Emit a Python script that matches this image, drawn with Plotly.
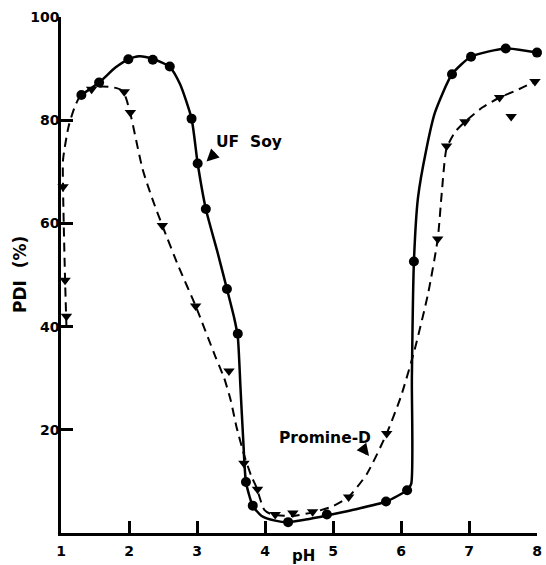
import plotly.graph_objects as go

# ---- Data ----
# UF Soy measured points (filled circles)
uf_soy_ph = [1.30, 1.56, 1.99, 2.35, 2.60, 2.92, 3.01, 3.13, 3.44, 3.60, 3.72, 3.82,
             4.34, 4.91, 5.78, 6.09, 6.19, 6.75, 7.03, 7.54, 8.00]
uf_soy_pdi = [84.9, 87.3, 91.8, 91.7, 90.4, 80.3, 71.6, 62.8, 47.3, 38.6, 9.9, 5.3,
              2.1, 3.6, 6.1, 8.3, 52.6, 88.9, 92.3, 93.9, 93.1]

# UF Soy fitted curve (solid line)
uf_soy_curve_ph = [1.30, 1.56, 1.80, 1.99, 2.15, 2.35, 2.60, 2.75, 2.92, 3.01, 3.13, 3.30,
                   3.44, 3.55, 3.60, 3.64, 3.68, 3.72, 3.82, 3.95, 4.15, 4.34, 4.60, 4.91,
                   5.30, 5.78, 6.09, 6.15, 6.16, 6.19, 6.25, 6.37, 6.50, 6.75, 7.03, 7.54, 8.00]
uf_soy_curve_pdi = [84.9, 87.3, 90.2, 91.8, 92.4, 91.9, 90.3, 87.0, 80.3, 71.6, 62.8, 54.5,
                    47.3, 41.5, 38.0, 28.0, 18.0, 9.9, 5.3, 3.3, 2.4, 2.1, 2.6, 3.4,
                    4.5, 6.1, 8.3, 9.5, 30.0, 52.6, 65.0, 74.2, 81.5, 88.9, 92.3, 93.9, 93.1]

# Promine-D measured points (inverted triangles)
promine_ph = [1.03, 1.06, 1.08, 1.45, 1.93, 2.02, 2.49, 2.98, 3.47, 3.69, 3.89, 4.15,
              4.41, 4.70, 5.23, 5.79, 6.54, 6.67, 6.94, 7.45, 7.62, 7.97]
promine_pdi = [67.1, 49.0, 42.0, 86.0, 85.5, 81.5, 59.6, 44.0, 31.4, 13.5, 8.5, 3.6,
               3.9, 4.1, 7.0, 19.3, 57.0, 75.0, 79.7, 84.4, 80.7, 87.5]

# Promine-D fitted curve (dashed line)
promine_curve_ph = [1.08, 1.06, 1.04, 1.03, 1.03, 1.11, 1.20, 1.28, 1.45, 1.59, 1.75, 1.88,
                    1.95, 2.03, 2.20, 2.35, 2.49, 2.73, 2.98, 3.27, 3.40, 3.50, 3.58, 3.70,
                    3.80, 3.87, 3.99, 4.10, 4.40, 4.70, 5.00, 5.23, 5.50, 5.79, 6.00, 6.20,
                    6.40, 6.54, 6.60, 6.67, 6.80, 6.94, 7.20, 7.45, 7.70, 7.97]
promine_curve_pdi = [40.0, 49.0, 60.0, 67.0, 72.3, 78.7, 82.5, 84.6, 86.2, 86.5, 86.4, 85.9,
                     84.5, 80.7, 70.5, 64.5, 59.6, 51.6, 44.0, 34.2, 30.0, 25.5, 20.6, 14.8,
                     11.0, 9.0, 4.5, 3.6, 3.3, 4.0, 5.2, 7.0, 11.5, 19.3, 26.5, 35.5,
                     46.5, 57.0, 66.0, 74.5, 77.8, 79.7, 82.5, 84.4, 85.8, 87.5]

x_ticks = [1, 2, 3, 4, 5, 6, 7, 8]
y_ticks = [20, 40, 60, 80, 100]
y_tick_labels = ["20", "40", "60", "80", "100"]

FONT = "DejaVu Sans"

fig = go.Figure()

fig.add_trace(go.Scatter(x=uf_soy_curve_ph, y=uf_soy_curve_pdi, mode="lines",
                         line=dict(color="black", width=2.5, shape="spline", smoothing=0.6),
                         hoverinfo="skip", showlegend=False, cliponaxis=False))
fig.add_trace(go.Scatter(x=promine_curve_ph, y=promine_curve_pdi, mode="lines",
                         line=dict(color="black", width=2, dash="9px,6px",
                                   shape="spline", smoothing=0.6),
                         hoverinfo="skip", showlegend=False, cliponaxis=False))
fig.add_trace(go.Scatter(x=uf_soy_ph, y=uf_soy_pdi, mode="markers", name="UF Soy",
                         marker=dict(symbol="circle", size=10, color="black"),
                         showlegend=False, cliponaxis=False))
fig.add_trace(go.Scatter(x=promine_ph, y=promine_pdi, mode="markers", name="Promine-D",
                         marker=dict(symbol="triangle-down", size=10, color="black"),
                         showlegend=False, cliponaxis=False))

# Labels with small arrows
fig.add_annotation(x=3.76, y=75.8, text="<b>UF\u00a0 Soy</b>", showarrow=False,
                   font=dict(family=FONT, size=15.5, color="black"))
fig.add_annotation(x=3.14, y=72.0, ax=3.29, ay=73.9, axref="x", ayref="y", text="",
                   showarrow=True, arrowhead=2, arrowsize=0.7, arrowwidth=3.5, arrowcolor="black")
fig.add_annotation(x=4.88, y=18.5, text="<b>Promine-D</b>", showarrow=False,
                   font=dict(family=FONT, size=15.5, color="black"))
fig.add_annotation(x=5.53, y=14.9, ax=5.41, ay=16.9, axref="x", ayref="y", text="",
                   showarrow=True, arrowhead=2, arrowsize=0.7, arrowwidth=3.5, arrowcolor="black")

# Axis titles
fig.add_annotation(x=4.56, y=0, xref="x", yref="paper", yanchor="bottom", yshift=-34,
                   text="<b>pH</b>", showarrow=False,
                   font=dict(family=FONT, size=15, color="black"))
fig.add_annotation(x=0, y=50, xref="paper", yref="y", xanchor="center", xshift=-41,
                   text="<b>PDI\u00a0 (%)</b>", showarrow=False, textangle=-90,
                   font=dict(family=FONT, size=17, color="black"))

fig.update_xaxes(range=[1, 8], tickvals=x_ticks, ticktext=[f"<b>{v}</b>" for v in x_ticks],
                 showline=True, linecolor="black", linewidth=2.5, mirror=False,
                 ticks="inside", ticklen=12, tickwidth=2.5, tickcolor="black",
                 showgrid=False, zeroline=False, ticklabeloverflow="allow",
                 ticklabelstandoff=3,
                 tickfont=dict(family=FONT, size=14, color="black"))
fig.update_yaxes(range=[0, 100], tickvals=y_ticks,
                 ticktext=[f"<b>{t}</b>" for t in y_tick_labels],
                 showline=True, linecolor="black", linewidth=2.5, mirror=False,
                 ticks="inside", ticklen=12, tickwidth=2.5, tickcolor="black",
                 showgrid=False, zeroline=False, ticklabeloverflow="allow",
                 ticklabelstandoff=-4,
                 tickfont=dict(family=FONT, size=14, color="black"))

fig.update_layout(width=546, height=565, margin=dict(l=61, r=4, t=17, b=32),
                  paper_bgcolor="white", plot_bgcolor="white", showlegend=False)

fig.write_html("out.html", config={"displayModeBar": False},
               post_script="document.body.style.margin='0';document.body.style.padding='0';")
